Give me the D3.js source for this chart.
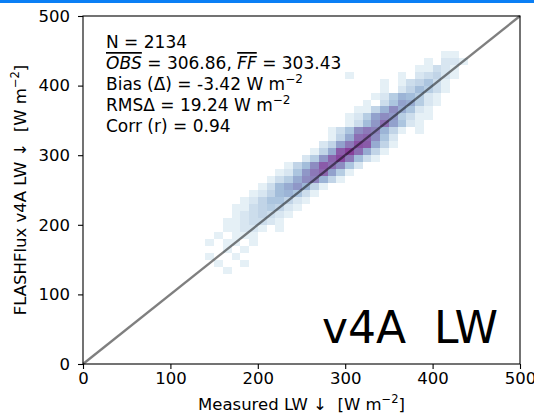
<!DOCTYPE html>
<html>
<head>
<meta charset="utf-8">
<script src="https://cdn.jsdelivr.net/npm/d3@7"></script>
<style>
body { margin: 0; background: #fff; }
svg text { font-family: "DejaVu Sans", sans-serif; fill: #000; }
</style>
</head>
<body>
<svg id="chart" width="534" height="416"></svg>
<script>
// axis ticks
var xTicks = [0, 100, 200, 300, 400, 500];
var yTicks = [0, 100, 200, 300, 400, 500];
var binSize = 10;

// 2d histogram rows: [y bin index, first x bin index, counts per x bin]
var histRows = [
    [13, 16, [1]],
    [14, 15, [1,0,0,1]],
    [15, 14, [1,0,0,1]],
    [16, 16, [1,0,1]],
    [17, 14, [1,0,1,1,0,1]],
    [18, 15, [1,0,1,1,1]],
    [19, 16, [1,1,2,2,1,0,1]],
    [20, 16, [1,1,2,3,3,2,1]],
    [21, 17, [1,2,3,4,3,2,1]],
    [22, 17, [1,1,3,4,5,4,2,1]],
    [23, 18, [1,2,4,6,6,4,2,1]],
    [24, 19, [1,2,4,7,8,6,3,1]],
    [25, 20, [1,3,7,9,11,8,4,1]],
    [26, 21, [1,3,5,9,12,13,8,4,1]],
    [27, 22, [1,2,6,11,14,16,10,5,1]],
    [28, 23, [1,4,7,12,17,15,12,6,2]],
    [29, 25, [2,5,11,16,19,14,7,3,1]],
    [30, 26, [1,4,9,17,20,15,9,4,1]],
    [31, 27, [2,4,10,14,18,17,9,4,1]],
    [32, 28, [1,4,9,15,16,12,6,2]],
    [33, 28, [1,3,6,12,14,13,8,4,1,0,1]],
    [34, 30, [1,3,7,11,15,10,6,2,1]],
    [35, 30, [1,2,5,10,12,11,5,3,1,1]],
    [36, 31, [1,1,4,8,12,9,6,2,1]],
    [37, 32, [1,0,3,6,10,9,5,2,1]],
    [38, 33, [1,2,5,8,7,5,2,1]],
    [39, 34, [1,0,2,4,7,5,3,1]],
    [40, 34, [1,0,1,3,4,6,3,1]],
    [41, 30, [1,0,0,0,0,0,1,0,2,3,4,2,1]],
    [42, 38, [1,1,3,2,1]],
    [43, 39, [1,0,2,2,1]],
    [44, 41, [1,1]]
];

var statLines = ["N = 2134", "OBS|306.86|FF|303.43", "Bias (\u0394\u0304) = -3.42 W m", "RMS\u0394 = 19.24 W m", "Corr (r) = 0.94"];

var margin = {top: 16, right: 14, bottom: 52, left: 83};
var width = 534 - margin.left - margin.right,
    height = 416 - margin.top - margin.bottom;

var svg = d3.select("#chart");

// blue strip along the top
svg.append("rect")
    .attr("x", 0).attr("y", 0)
    .attr("width", 534).attr("height", 3)
    .attr("fill", "#0a7ff5");

var g = svg.append("g")
    .attr("transform", "translate(" + margin.left + "," + margin.top + ")");

var x = d3.scaleLinear().domain([0, 500]).range([0, width]);
var y = d3.scaleLinear().domain([0, 500]).range([height, 0]);

// flatten rows into cells
var cells = [];
histRows.forEach(function(r){
    r[2].forEach(function(c, i){
        if(c > 0) cells.push({xb: r[1] + i, yb: r[0], n: c});
    });
});

var color = d3.scaleSequentialPow(d3.interpolateBuPu).exponent(0.7).domain([0, 30]);

g.selectAll("rect.cell")
    .data(cells)
    .enter()
    .append("rect")
        .attr("class", "cell")
        .attr("x", function(d){ return x(d.xb * binSize); })
        .attr("y", function(d){ return y((d.yb + 1) * binSize); })
        .attr("width", function(d){ return x((d.xb + 1) * binSize) - x(d.xb * binSize); })
        .attr("height", function(d){ return y(d.yb * binSize) - y((d.yb + 1) * binSize); })
        .attr("fill", function(d){ return color(d.n); })
        .attr("shape-rendering", "crispEdges");

// 1:1 line
g.append("line")
    .attr("x1", x(0)).attr("y1", y(0))
    .attr("x2", x(500)).attr("y2", y(500))
    .style("stroke", "#000")
    .style("stroke-opacity", 0.5)
    .style("stroke-width", "2.3px");

// axes
var xAxis = g.append("g")
    .attr("transform", "translate(0," + height + ")")
    .call(d3.axisBottom(x).tickValues(xTicks).tickSize(5).tickSizeOuter(0).tickPadding(3));
var yAxis = g.append("g")
    .call(d3.axisLeft(y).tickValues(yTicks).tickSize(5).tickSizeOuter(0).tickPadding(8));

[xAxis, yAxis].forEach(function(a){
    a.select(".domain").remove();
    a.selectAll("line").style("stroke", "#000").style("stroke-width", "1.1px");
    a.selectAll("text")
        .style("font-family", "DejaVu Sans")
        .style("font-size", "16.5px")
        .style("fill", "#000");
});

// frame
g.append("rect")
    .attr("width", width).attr("height", height)
    .attr("fill", "none")
    .style("stroke", "#000")
    .style("stroke-width", "1.1px");

// stats box text
var sx = 23;
var stats = g.append("text")
    .style("font-size", "17px");

stats.append("tspan").attr("x", sx).attr("y", 32).text(statLines[0]);

var l2 = statLines[1].split("|");
var t2 = stats.append("tspan").attr("x", sx).attr("y", 53);
t2.append("tspan").style("font-style", "italic").style("text-decoration", "overline").text(l2[0]);
t2.append("tspan").text(" = " + l2[1] + ", ");
t2.append("tspan").style("font-style", "italic").style("text-decoration", "overline").text(l2[2]);
t2.append("tspan").text(" = " + l2[3]);

[statLines[2], statLines[3]].forEach(function(s, i){
    var t = stats.append("tspan").attr("x", sx).attr("y", 74 + i * 21);
    t.append("tspan").text(s);
    t.append("tspan").attr("dy", -7).style("font-size", "12px").text("\u22122");
});

stats.append("tspan").attr("x", sx).attr("y", 116).text(statLines[4]);

// big label
g.append("text")
    .attr("x", 239)
    .attr("y", 327)
    .style("font-size", "44px")
    .style("white-space", "pre")
    .text("v4A  LW");

// axis labels
var xl = svg.append("text")
    .attr("x", margin.left + width / 2)
    .attr("y", 410)
    .attr("text-anchor", "middle")
    .style("font-size", "16.5px");
xl.append("tspan").style("white-space", "pre").text("Measured LW \u2193  [W m");
xl.append("tspan").attr("dy", -7).style("font-size", "11.5px").text("\u22122");
xl.append("tspan").attr("dy", 7).text("]");

var yl = svg.append("text")
    .attr("transform", "translate(26," + (margin.top + height / 2) + ") rotate(-90)")
    .attr("text-anchor", "middle")
    .style("font-size", "16.5px");
yl.append("tspan").style("white-space", "pre").text("FLASHFlux v4A LW \u2193  [W m");
yl.append("tspan").attr("dy", -7).style("font-size", "11.5px").text("\u22122");
yl.append("tspan").attr("dy", 7).text("]");
</script>
</body>
</html>
